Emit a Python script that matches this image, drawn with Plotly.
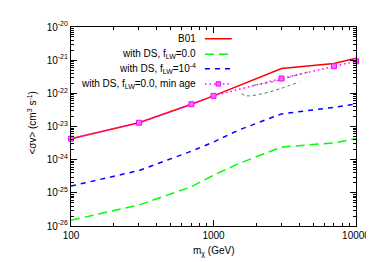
import plotly.graph_objects as go

# ---- data ----
mass = [100, 300, 700, 1000, 3000, 7000, 10000]
sv_b01 = [4.3e-24, 1.3e-23, 4.7e-23, 8.4e-23, 5.6e-22, 7.9e-22, 1.15e-21]
sv_minage = [4.3e-24, 1.3e-23, 4.7e-23, 8.4e-23, 2.8e-22, 6.6e-22, 9.3e-22]

mass_ds = [100, 300, 700, 1000, 1500, 3000, 7000, 10000]
sv_ds0 = [1.5e-26, 4.3e-26, 1.53e-25, 3.4e-25, 7.6e-25, 2.4e-24, 3.2e-24, 4.3e-24]
sv_ds4 = [1.6e-25, 4.7e-25, 1.8e-24, 3.4e-24, 7.8e-24, 2.4e-23, 3.8e-23, 4.8e-23]

# thin grey dashed curves (band)
gray_up_m = [1890, 2700, 4000, 4700]
gray_up_sv = [1.73e-22, 2.3e-22, 3.77e-22, 4.5e-22]
gray_lo_m = [1570, 1720, 2140, 2920, 4000]
gray_lo_sv = [9.8e-23, 8.4e-23, 9.5e-23, 1.37e-22, 2.2e-22]

legend_labels = ["B01",
                 "with DS, f<sub>LW</sub>=0.0",
                 "with DS, f<sub>LW</sub>=10<sup>-4</sup>",
                 "with DS, f<sub>LW</sub>=0.0, min age"]

ytick_vals = [10.0 ** k for k in range(-26, -19)]
ytick_text = ["10<sup>%d</sup>" % k for k in range(-26, -19)]
xtick_vals = [100, 1000, 10000]
xtick_text = ["100", "1000", "10000"]

FONT = "Liberation Sans, Arial, sans-serif"
FS = 10
RED, GREEN, BLUE, MAG, GRAY = "#ff0000", "#00ff00", "#0000ff", "#ff00ff", "#444444"

fig = go.Figure()
fig.add_trace(go.Scatter(x=gray_up_m, y=gray_up_sv, mode="lines",
                         line=dict(color=GRAY, width=0.8, dash="3px,3px", shape="spline"),
                         showlegend=False))
fig.add_trace(go.Scatter(x=gray_lo_m, y=gray_lo_sv, mode="lines",
                         line=dict(color=GRAY, width=0.8, dash="3px,3px", shape="spline"),
                         showlegend=False))
fig.add_trace(go.Scatter(x=mass_ds, y=sv_ds0, mode="lines",
                         line=dict(color=GREEN, width=1.5, dash="9px,5px"), showlegend=False))
fig.add_trace(go.Scatter(x=mass_ds, y=sv_ds4, mode="lines",
                         line=dict(color=BLUE, width=1.5, dash="5px,5px"), showlegend=False))
fig.add_trace(go.Scatter(x=mass, y=sv_b01, mode="lines",
                         line=dict(color=RED, width=1.5), showlegend=False))
fig.add_trace(go.Scatter(x=mass, y=sv_minage, mode="lines+markers",
                         line=dict(color=MAG, width=1.5, dash="1.5px,3px"),
                         marker=dict(symbol="square", size=5, color="#ff66ff",
                                     line=dict(color=MAG, width=1)),
                         cliponaxis=False, showlegend=False))

# manual legend (text right aligned, sample on the right)
legend_y = [0.941, 0.863, 0.790, 0.714]
styles = [dict(color=RED, width=1.5),
          dict(color=GREEN, width=1.5, dash="9px,5px"),
          dict(color=BLUE, width=1.5, dash="5px,5px"),
          dict(color=MAG, width=1.5, dash="1.5px,3px")]
x0, x1 = 0.47, 0.564
for lab, yy, st in zip(legend_labels, legend_y, styles):
    fig.add_annotation(x=0.446, y=yy, xref="paper", yref="paper", text=lab,
                       showarrow=False, xanchor="right", yanchor="middle",
                       font=dict(family=FONT, size=FS, color="black"))
    fig.add_shape(type="line", xref="paper", yref="paper", x0=x0, x1=x1, y0=yy, y1=yy,
                  line=st)
xm = (x0 + x1) / 2
fig.add_shape(type="rect", xref="paper", yref="paper",
              x0=xm - 0.008, x1=xm + 0.008, y0=legend_y[3] - 0.011, y1=legend_y[3] + 0.011,
              line=dict(color=MAG, width=1), fillcolor="#ff66ff")

# axis titles
fig.add_annotation(x=0.5, y=-0.127, xref="paper", yref="paper",
                   text="m<sub>χ</sub> (GeV)", showarrow=False,
                   xanchor="center", yanchor="middle",
                   font=dict(family=FONT, size=FS, color="black"))
fig.add_annotation(x=-0.14, y=0.52, xref="paper", yref="paper",
                   text="<σv> (cm<sup>3</sup> s<sup>-1</sup>)", showarrow=False,
                   textangle=-90, xanchor="center", yanchor="middle",
                   font=dict(family=FONT, size=FS, color="black"))

xminor = [m * 10 ** k for k in (2, 3) for m in range(2, 10)]
yminor = [m * 10.0 ** k for k in range(-26, -20) for m in range(2, 10)]

fig.update_xaxes(type="log", range=[2, 4], tickvals=xtick_vals, ticktext=xtick_text,
                 ticks="inside", ticklen=6, tickwidth=1, tickcolor="black",
                 showline=True, linecolor="black", linewidth=1.2, mirror="allticks",
                 showgrid=False, zeroline=False,
                 minor=dict(tickvals=xminor, ticks="inside", ticklen=3, tickcolor="black",
                            showgrid=False),
                 tickfont=dict(family=FONT, size=FS, color="black"))
fig.update_yaxes(type="log", range=[-26, -20], tickvals=ytick_vals, ticktext=ytick_text,
                 ticks="inside", ticklen=6, tickwidth=1, tickcolor="black",
                 showline=True, linecolor="black", linewidth=1.2, mirror="allticks",
                 showgrid=False, zeroline=False,
                 minor=dict(tickvals=yminor, ticks="inside", ticklen=3, tickcolor="black",
                            showgrid=False),
                 tickfont=dict(family=FONT, size=FS, color="black"))

fig.update_layout(width=374, height=262, margin=dict(l=63, r=15, t=13, b=44),
                  plot_bgcolor="white", paper_bgcolor="white",
                  font=dict(family=FONT, size=FS, color="black"))

fig.write_html("out.html")
